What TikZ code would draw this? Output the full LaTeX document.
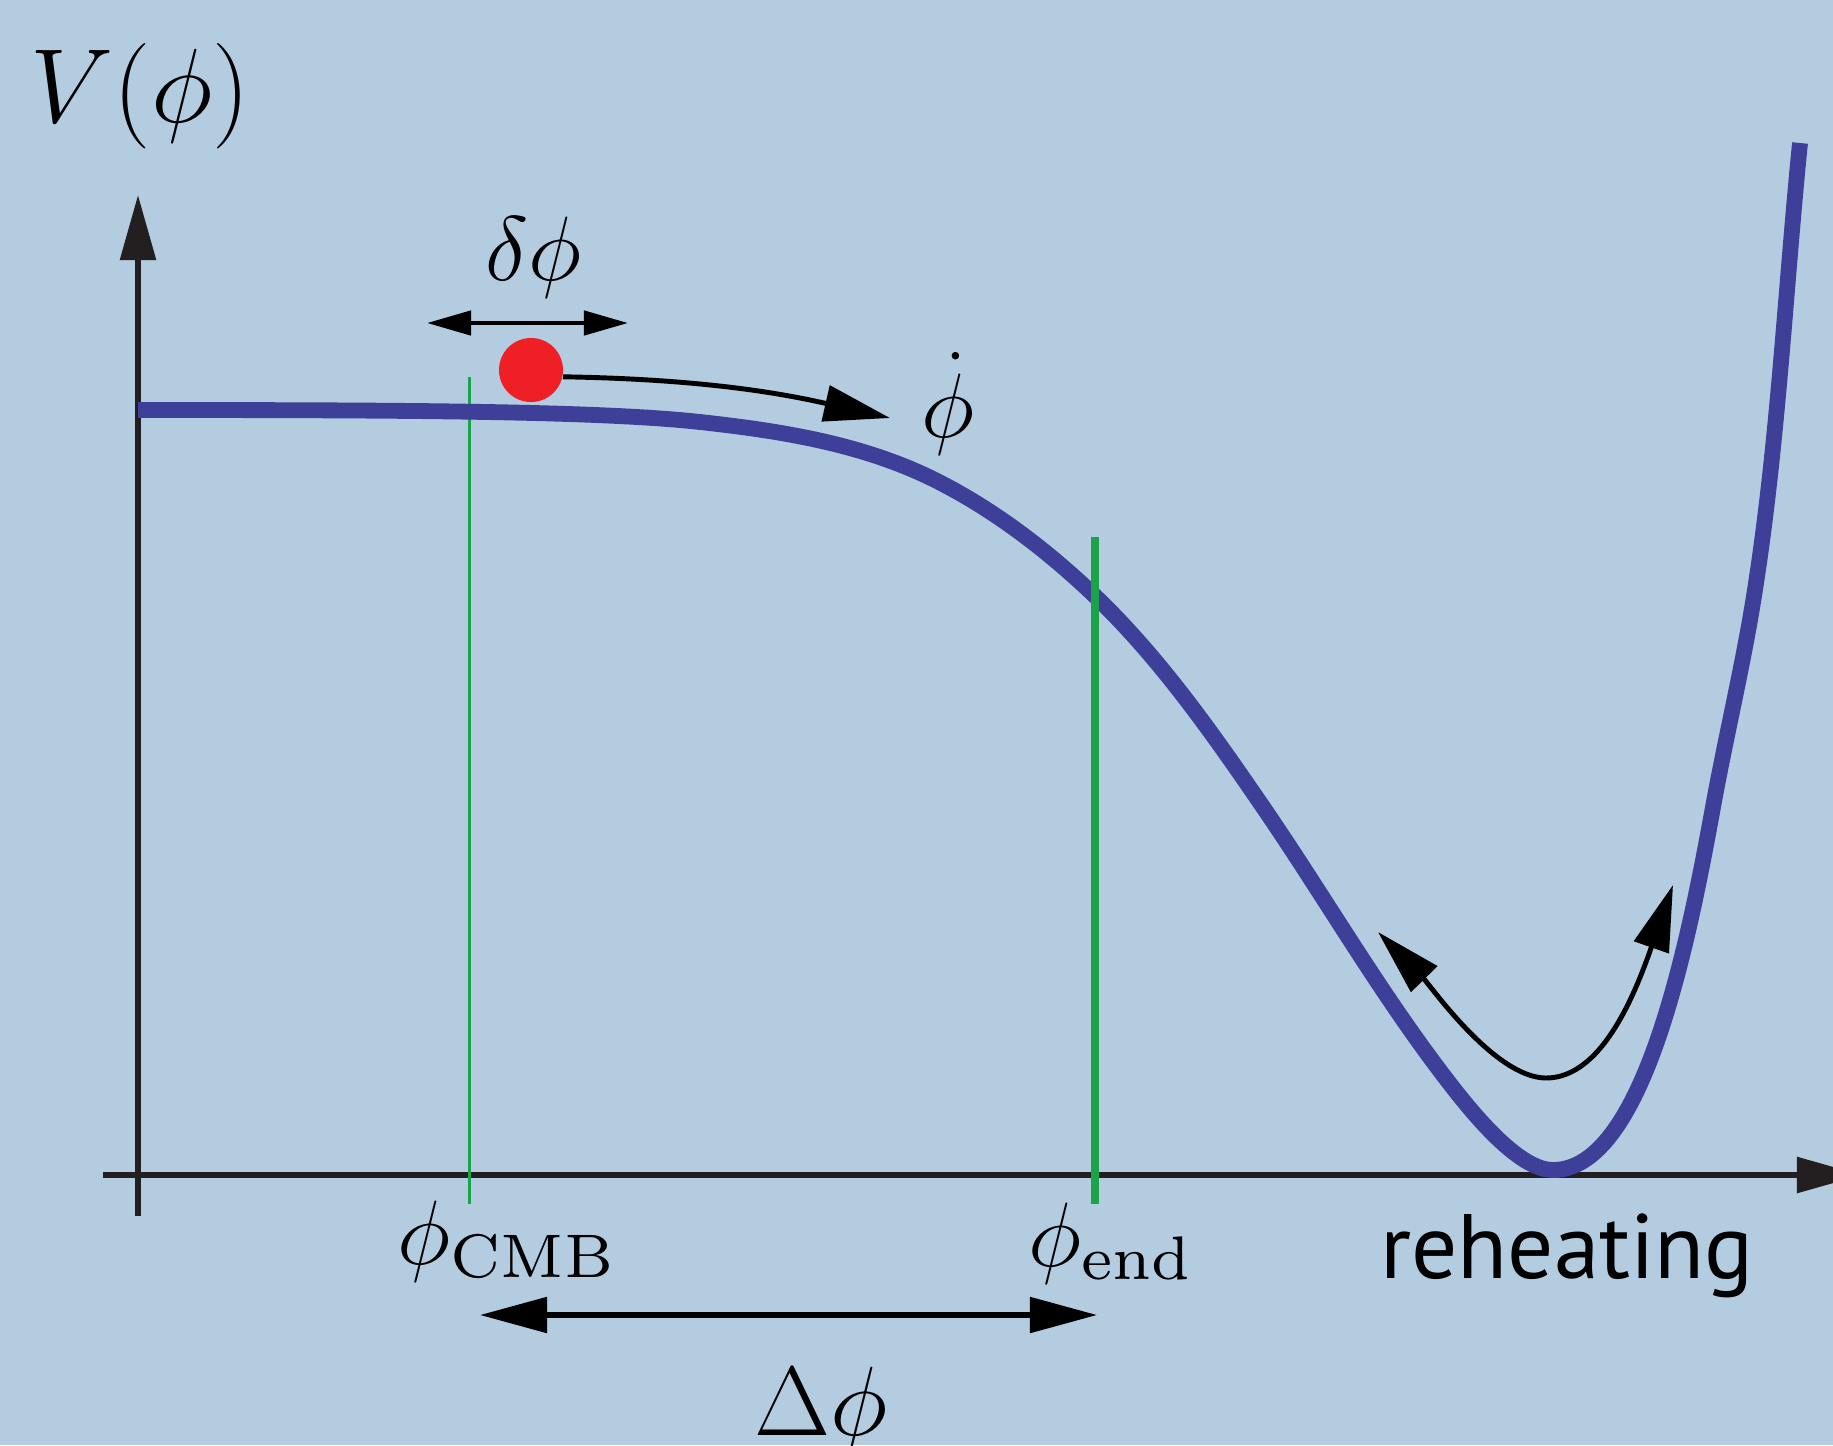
\RequirePackage{fix-cm}
\documentclass[tikz,border=0pt]{standalone}
\usepackage{fontspec}
\newfontfamily\labelsans{PT Sans}
\font\cmsub=cmr7 at 17.5pt
\usepackage{tikz}
\usetikzlibrary{arrows.meta, positioning}
\definecolor{bgblue}{HTML}{B3CCE0}
\definecolor{potblue}{HTML}{3D3F98}
\definecolor{ballred}{HTML}{EE1F25}
\definecolor{markgreen}{HTML}{1BA34A}
\definecolor{axisgray}{HTML}{231F20}
\newcommand{\fieldsub}[1]{$\phi$\raisebox{-3.7pt}{\cmsub #1}}

\begin{document}
\begin{tikzpicture}[x=0.01cm, y=-0.01cm,
    pot/.style={potblue, line width=4.5pt, line join=round},
    axis/.style={axisgray, line width=1.6pt, -{Triangle[length=0.65cm, width=0.35cm]}},
    cut/.style={markgreen},
    ball/.style={circle, fill=ballred, minimum size=0.64cm, inner sep=0pt},
    lbl/.style={inner sep=0pt, anchor=base, font=\fontsize{26}{30}\selectfont},
    shiftarr/.style={line width=1.3pt, {Triangle[length=0.44cm, width=0.24cm]}-{Triangle[length=0.44cm, width=0.24cm]}},
    spanarr/.style={line width=1.5pt, {Triangle[length=0.67cm, width=0.35cm]}-{Triangle[length=0.67cm, width=0.35cm]}},
    rollarr/.style={line width=1.4pt, -{Triangle[length=0.66cm, width=0.36cm]}},
    swingarr/.style={line width=1.4pt, {Triangle[length=0.66cm, width=0.36cm]}-{Triangle[length=0.66cm, width=0.36cm]}}
]
    \useasboundingbox (0,0) rectangle (1833,1445);
    \clip (0,0) rectangle (1833,1445);
    \fill[bgblue] (0,0) rectangle (1833,1445);

    % axes
    \coordinate (o) at (138,1216);
    \coordinate (ytop) at (138,195);
    \coordinate (xl) at (103,1175);
    \coordinate (xr) at (1862,1175);
    \draw[axis] (o) -- (ytop);
    \draw[axis] (xl) -- (xr);

    % phi_CMB marker
    \draw[cut, line width=0.85pt] (469,377) -- (469,1204);

    % potential
    \draw[pot] (138,410) .. controls (400,410) and (600,411) .. (700,422)
        .. controls (780.5,430.8) and (862.6,443.8) .. (935,480)
        .. controls (994,509.5) and (1048.4,551.3) .. (1096,597)
        .. controls (1160.2,658.7) and (1212.7,733.6) .. (1263,807)
        .. controls (1325.2,897.8) and (1379.9,992.8) .. (1447,1080)
        .. controls (1471.4,1111.7) and (1518,1170) .. (1553,1170)
        .. controls (1643,1170) and (1688,944.8) .. (1713,807)
        .. controls (1725.8,736.5) and (1742.7,666.8) .. (1754,596)
        .. controls (1777.9,445.8) and (1784.9,294.2) .. (1800,143);

    % phi_end marker
    \draw[cut, line width=2pt] (1095,537) -- (1095,1204);

    % field and its velocity
    \node[ball] (inf) at (531,370) {};
    \coordinate (rollend) at (890,418);
    \draw[rollarr] (inf.-12) .. controls (700,379) and (780,393) .. (rollend);

    % fluctuation
    \coordinate (dl) at (427,323);
    \coordinate (dr) at (628,323);
    \draw[shiftarr] (dl) -- (dr);

    % oscillation
    \coordinate (swl) at (1378,932);
    \coordinate (swm) at (1546,1078);
    \coordinate (swr) at (1673,885);
    \draw[swingarr] (swl) .. controls (1430,985) and (1495,1078) .. (swm)
        .. controls (1600,1078) and (1633,1000) .. (swr);

    % field range
    \coordinate (sl) at (480,1315);
    \coordinate (sr) at (1097,1315);
    \draw[spanarr] (sl) -- (sr);

    % labels
    \node[lbl, font=\fontsize{30}{36}\selectfont] (vlab) at (140,122) {$V(\phi)$};
    \node[lbl] (dlab) at (534,280) {$\delta\phi$};
    \node[lbl] (vlc) at (948,437) {$\dot\phi$};
    \node[lbl, anchor=base west] (cmb) at (397,1264) {\fieldsub{CMB}};
    \node[lbl, anchor=base west] (pend) at (1028,1266) {\fieldsub{end}};
    \node[lbl, font=\fontsize{28}{34}\selectfont] (dlt) at (821,1435) {$\Delta\phi$};
    \node[lbl, font=\labelsans\fontsize{26}{31}\selectfont] (reh) at (1567,1278) {reheating};
\end{tikzpicture}
\end{document}
